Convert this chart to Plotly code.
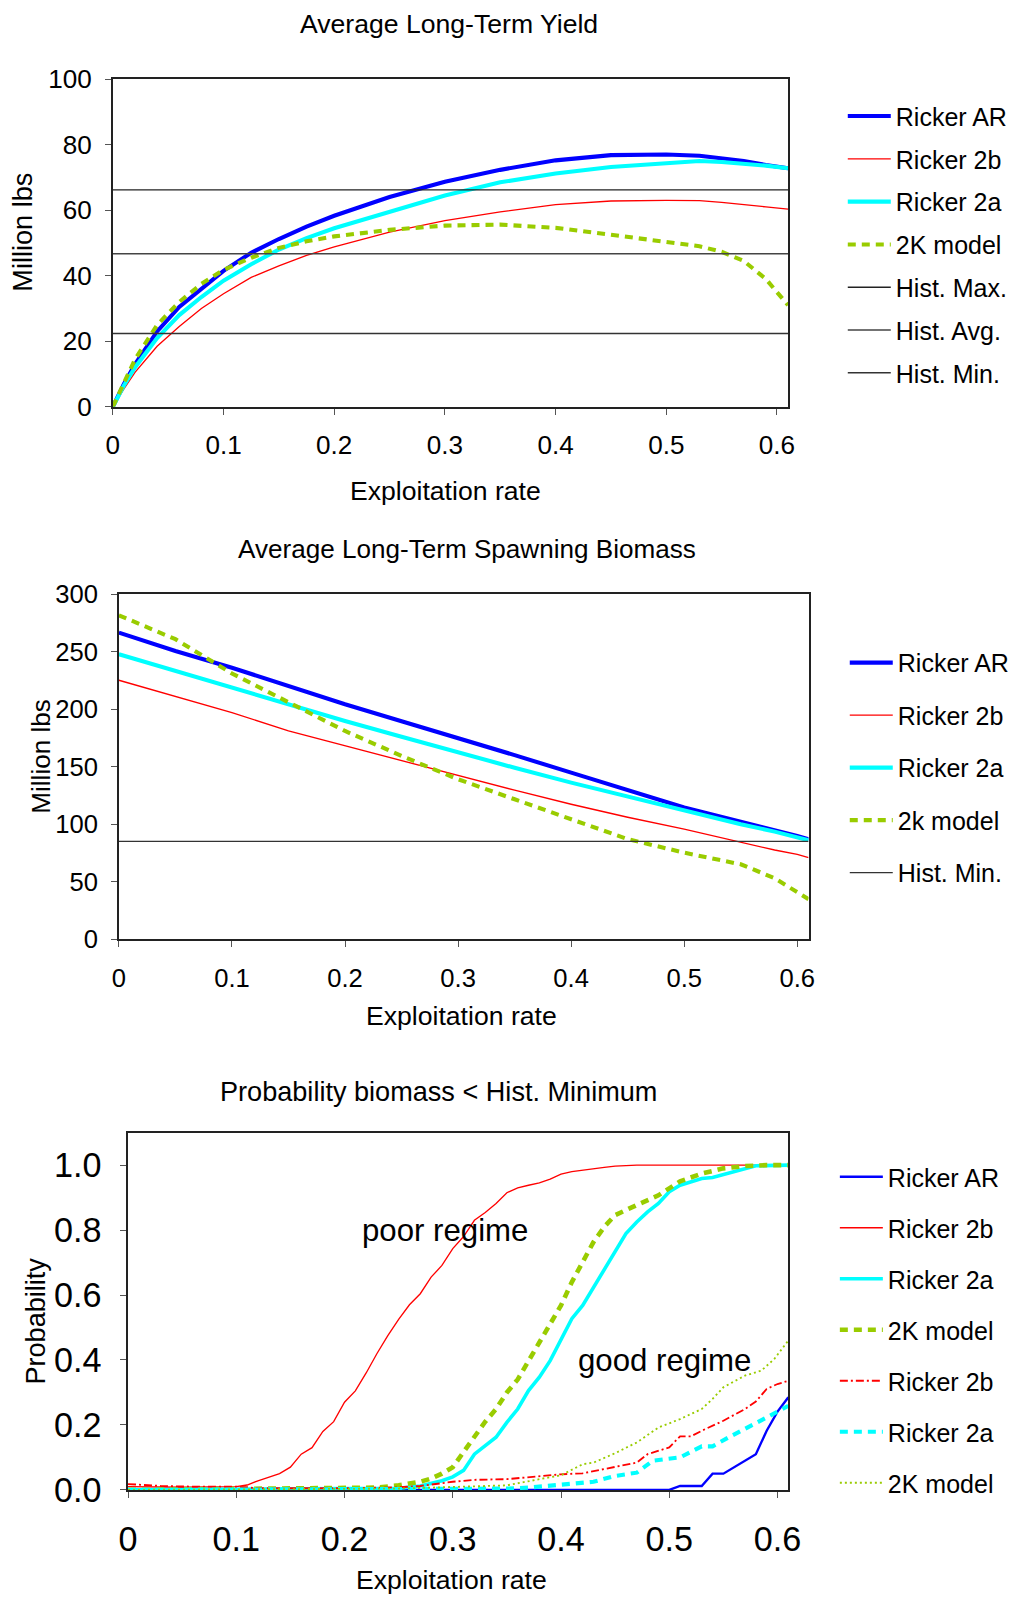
import plotly.graph_objects as go

# The page is photographed slightly reduced (about 0.98) with the figure starting a
# few pixels in from the corner; positions below are given in reference pixels and
# mapped to figure pixels so the photographed chart lines up with the reference.
S_X, S_Y = 0.9775, 0.979
S = (S_X + S_Y) / 2
OFF_X, OFF_Y = 8.5, 13.6
W, H = 1015, 1609

# ---------------- Chart 1: Average Long-Term Yield ----------------
X1 = [0, 0.01, 0.02, 0.04, 0.06, 0.08, 0.1, 0.125, 0.15, 0.175, 0.2, 0.25, 0.3,
      0.35, 0.4, 0.45, 0.5, 0.53, 0.55, 0.57, 0.59, 0.61]
Y1_ricker_ar = [0, 7, 13, 23, 30.5, 36, 41.5, 47, 51.2, 55, 58.3, 64, 68.7, 72.3,
                75.2, 76.8, 77, 76.6, 75.8, 75, 73.8, 72.8]
Y1_ricker_2b = [0, 5.5, 10.5, 18.5, 24.5, 30, 34.5, 39.5, 43, 46.2, 48.8, 53.3, 56.8,
                59.5, 61.7, 62.8, 63, 62.9, 62.4, 61.8, 61, 60.3]
Y1_ricker_2a = [0, 6.5, 12, 21, 28, 33.5, 38.5, 43.5, 48, 51.5, 54.5, 59.5, 64.5,
                68.5, 71.2, 73.2, 74.3, 75, 74.7, 74.3, 73.6, 72.8]
Y1_2k_model = [0, 7.5, 14.5, 25, 32, 37.5, 41.8, 45.5, 48.5, 50.5, 52, 54, 55.3,
               55.6, 54.6, 52.5, 50.4, 49, 47.3, 44.5, 39, 31]
HIST1_X = [0, 0.61]
HIST_MAX_YIELD = 66.2
HIST_AVG_YIELD = 46.7
HIST_MIN_YIELD = 22.4

# ---------------- Chart 2: Average Long-Term Spawning Biomass ----------------
X2 = [0, 0.05, 0.1, 0.15, 0.2, 0.25, 0.3, 0.35, 0.4, 0.45, 0.5, 0.55, 0.58, 0.6, 0.61]
Y2_ricker_ar = [266.5, 250.6, 236, 220, 204.2, 189.5, 175.2, 160, 144.8, 129.5, 114.4,
                102, 95, 89.7, 86.8]
Y2_ricker_2b = [225.1, 211, 197, 181, 168, 155, 141.9, 129.5, 117.3, 106, 95.6, 84,
                77.5, 73.8, 70.9]
Y2_ricker_2a = [247.7, 233, 219, 204, 189.7, 176, 162.2, 149, 136.1, 124, 111.5, 100,
                93.5, 88.2, 86]
Y2_2k_model = [281.6, 260.8, 231, 205.7, 181, 159.3, 139, 121.6, 104.2, 87, 75.2, 65.1,
               53, 41, 34.7]
HIST_MIN_BIOMASS = 85

# ---------------- Chart 3: Probability biomass < Hist. Minimum ----------------
X3_ar = [0, 0.5, 0.51, 0.53, 0.54, 0.55, 0.58, 0.59, 0.6, 0.61]
Y3_ar = [0, 0, 0.012, 0.012, 0.05, 0.05, 0.11, 0.182, 0.241, 0.285]

X3_2b_poor = [0, 0.05, 0.1, 0.11, 0.12, 0.13, 0.14, 0.15, 0.16, 0.17, 0.18, 0.19, 0.2,
              0.21, 0.22, 0.23, 0.24, 0.25, 0.26, 0.27, 0.28, 0.29, 0.3, 0.31, 0.32,
              0.33, 0.34, 0.35, 0.36, 0.37, 0.38, 0.39, 0.4, 0.41, 0.42, 0.43, 0.44,
              0.45, 0.46, 0.47, 0.5, 0.61]
Y3_2b_poor = [0.01, 0.008, 0.01, 0.015, 0.028, 0.04, 0.05, 0.07, 0.11, 0.13, 0.18, 0.21,
              0.27, 0.305, 0.36, 0.42, 0.475, 0.525, 0.57, 0.604, 0.655, 0.691, 0.743,
              0.78, 0.83, 0.854, 0.882, 0.915, 0.93, 0.938, 0.945, 0.957, 0.972, 0.98,
              0.985, 0.99, 0.993, 0.997, 0.998, 1.0, 1.0, 1.0]

X3_2a_poor = [0, 0.25, 0.27, 0.29, 0.3, 0.31, 0.32, 0.33, 0.34, 0.35, 0.36, 0.37, 0.38,
              0.39, 0.4, 0.41, 0.42, 0.43, 0.44, 0.45, 0.46, 0.47, 0.48, 0.49, 0.5,
              0.51, 0.53, 0.54, 0.55, 0.57, 0.58, 0.61]
Y3_2a_poor = [0, 0.005, 0.012, 0.028, 0.04, 0.06, 0.11, 0.135, 0.162, 0.208, 0.249,
              0.306, 0.347, 0.398, 0.46, 0.527, 0.568, 0.624, 0.681, 0.738, 0.789,
              0.825, 0.856, 0.882, 0.918, 0.938, 0.959, 0.962, 0.971, 0.99, 0.998, 1.0]

X3_2k_poor = [0, 0.2, 0.23, 0.25, 0.27, 0.28, 0.29, 0.3, 0.31, 0.32, 0.33, 0.34, 0.35,
              0.36, 0.37, 0.38, 0.39, 0.4, 0.41, 0.42, 0.43, 0.44, 0.45, 0.47, 0.49,
              0.51, 0.53, 0.55, 0.57, 0.59, 0.61]
Y3_2k_poor = [0, 0.005, 0.007, 0.014, 0.025, 0.035, 0.05, 0.07, 0.115, 0.162, 0.21,
              0.249, 0.3, 0.34, 0.398, 0.45, 0.511, 0.568, 0.64, 0.702, 0.763, 0.81,
              0.846, 0.877, 0.907, 0.95, 0.974, 0.99, 0.997, 1.0, 1.0]

X3_2b_good = [0, 0.03, 0.06, 0.1, 0.12, 0.2, 0.25, 0.27, 0.3, 0.32, 0.35, 0.38, 0.4,
              0.42, 0.44, 0.46, 0.47, 0.48, 0.5, 0.51, 0.52, 0.53, 0.55, 0.57, 0.58,
              0.59, 0.6, 0.61]
Y3_2b_good = [0.018, 0.012, 0.01, 0.01, 0.005, 0.005, 0.008, 0.012, 0.025, 0.031, 0.033,
              0.041, 0.048, 0.051, 0.064, 0.076, 0.084, 0.11, 0.131, 0.165, 0.165,
              0.182, 0.213, 0.249, 0.272, 0.311, 0.326, 0.336]

X3_2a_good = [0, 0.3, 0.35, 0.37, 0.39, 0.41, 0.43, 0.45, 0.47, 0.485, 0.51, 0.53, 0.54,
              0.555, 0.57, 0.59, 0.61]
Y3_2a_good = [0, 0.002, 0.004, 0.007, 0.014, 0.021, 0.025, 0.043, 0.053, 0.09, 0.1,
              0.134, 0.134, 0.162, 0.187, 0.223, 0.259]

X3_2k_good = [0, 0.25, 0.31, 0.35, 0.38, 0.4, 0.42, 0.43, 0.45, 0.47, 0.49, 0.51, 0.53,
              0.54, 0.55, 0.57, 0.585, 0.597, 0.61]
Y3_2k_good = [0, 0.004, 0.01, 0.014, 0.033, 0.045, 0.079, 0.084, 0.113, 0.146, 0.192,
              0.218, 0.249, 0.28, 0.316, 0.352, 0.367, 0.403, 0.46]

TITLES = ["Average Long-Term Yield", "Average Long-Term Spawning Biomass",
          "Probability biomass < Hist. Minimum"]

BLUE = "#0000FF"
RED = "#FF0000"
CYAN = "#00FFFF"
GREEN = "#99CC00"
FONT = "Liberation Sans, Arial, sans-serif"

fig = go.Figure()


def px_x(p):
    return (p / S_X - OFF_X) / W


def px_y(p):
    return 1 - (p / S_Y - OFF_Y) / H


def fs(size):
    return round(size / S, 1)


def lw(width):
    return round(width / S, 2)


def line(x, y, name, color, width, dash="solid", xa="x", ya="y", leg="legend", grp=""):
    fig.add_trace(go.Scatter(
        x=x, y=y, mode="lines", name=name, legend=leg, legendgroup=grp,
        line=dict(color=color, width=lw(width), dash=dash),
        xaxis=xa, yaxis=ya, hoverinfo="skip"))


# chart 1
line(X1, Y1_ricker_ar, "Ricker AR", BLUE, 4, grp="a1")
line(X1, Y1_ricker_2b, "Ricker 2b", RED, 1.3, grp="a2")
line(X1, Y1_ricker_2a, "Ricker 2a", CYAN, 4, grp="a3")
line(X1, Y1_2k_model, "2K model", GREEN, 4, dash="8px,6px", grp="a4")
line(HIST1_X, [HIST_MAX_YIELD] * 2, "Hist. Max.", "#222222", 1.4, grp="a5")
line(HIST1_X, [HIST_AVG_YIELD] * 2, "Hist. Avg.", "#444444", 1.4, grp="a6")
line(HIST1_X, [HIST_MIN_YIELD] * 2, "Hist. Min.", "#333333", 1.4, grp="a7")

# chart 2
line(X2, Y2_ricker_ar, "Ricker AR", BLUE, 4, xa="x2", ya="y2", leg="legend2", grp="b1")
line(X2, Y2_ricker_2b, "Ricker 2b", RED, 1.3, xa="x2", ya="y2", leg="legend2", grp="b2")
line(X2, Y2_ricker_2a, "Ricker 2a", CYAN, 4, xa="x2", ya="y2", leg="legend2", grp="b3")
line(X2, Y2_2k_model, "2k model", GREEN, 4, dash="8px,6px", xa="x2", ya="y2",
     leg="legend2", grp="b4")
line(HIST1_X, [HIST_MIN_BIOMASS] * 2, "Hist. Min.", "#333333", 1.4, xa="x2", ya="y2",
     leg="legend2", grp="b5")

# chart 3
line(X3_ar, Y3_ar, "Ricker AR", BLUE, 2.3, xa="x3", ya="y3", leg="legend3", grp="c1")
line(X3_2b_poor, Y3_2b_poor, "Ricker 2b", RED, 1.3, xa="x3", ya="y3", leg="legend3", grp="c2")
line(X3_2a_poor, Y3_2a_poor, "Ricker 2a", CYAN, 3.5, xa="x3", ya="y3", leg="legend3", grp="c3")
line(X3_2k_poor, Y3_2k_poor, "2K model", GREEN, 4.5, dash="8px,6px", xa="x3", ya="y3",
     leg="legend3", grp="c4")
line(X3_2b_good, Y3_2b_good, "Ricker 2b", RED, 1.8, dash="8px,3px,2px,3px", xa="x3",
     ya="y3", leg="legend3", grp="c5")
line(X3_2a_good, Y3_2a_good, "Ricker 2a", CYAN, 4, dash="8px,6px", xa="x3", ya="y3",
     leg="legend3", grp="c6")
line(X3_2k_good, Y3_2k_good, "2K model", GREEN, 1.8, dash="2px,3px", xa="x3", ya="y3",
     leg="legend3", grp="c7")

axis_common = dict(showline=True, mirror=True, linecolor="#222222", linewidth=lw(1.5),
                   ticks="outside", ticklen=6, tickcolor="#555555", tickwidth=1.2,
                   showgrid=False, zeroline=False, color="black")

fig.update_layout(
    width=W, height=H, margin=dict(l=0, r=0, t=0, b=0),
    paper_bgcolor="white", plot_bgcolor="white",
    font=dict(family=FONT, color="black"),
    showlegend=True,
    xaxis=dict(domain=[px_x(112), px_x(792.8)], range=[0, 0.61], dtick=0.1, tick0=0,
               anchor="y", tickfont=dict(size=fs(25.5)), ticklabelstandoff=8,
               **axis_common),
    yaxis=dict(domain=[px_y(405.2), px_y(77.4)], range=[0, 100], dtick=20,
               anchor="x", tickfont=dict(size=fs(25.5)), ticklabelstandoff=8,
               **axis_common),
    xaxis2=dict(domain=[px_x(118.1), px_x(813.5)], range=[0, 0.61], dtick=0.1, tick0=0,
                anchor="y2", tickfont=dict(size=fs(25)), ticklabelstandoff=9,
                **axis_common),
    yaxis2=dict(domain=[px_y(937.6), px_y(592.5)], range=[0, 300], dtick=50,
                anchor="x2", tickfont=dict(size=fs(25)), ticklabelstandoff=8,
                **axis_common),
    xaxis3=dict(domain=[px_x(127.3), px_x(793.1)], range=[0, 0.61], dtick=0.1, tick0=0,
                anchor="y3", tickfont=dict(size=fs(33.5)), ticklabelstandoff=12,
                **axis_common),
    yaxis3=dict(domain=[px_y(1488.4), px_y(1131.1)], range=[0, 1.1], dtick=0.2,
                tickformat=".1f", anchor="x3", tickfont=dict(size=fs(33.5)),
                ticklabelstandoff=12, **axis_common),
)

leg_common = dict(bgcolor="rgba(0,0,0,0)", borderwidth=0, traceorder="grouped",
                  itemwidth=43, xanchor="left", yanchor="top", itemclick=False,
                  itemdoubleclick=False)
fig.update_layout(
    legend=dict(x=px_x(848), y=px_y(91.6), font=dict(size=fs(24.5)), tracegroupgap=7.3,
                **leg_common),
    legend2=dict(x=px_x(850), y=px_y(638.3), font=dict(size=fs(24.5)), tracegroupgap=17,
                 **leg_common),
    legend3=dict(x=px_x(840), y=px_y(1152.5), font=dict(size=fs(24.5)),
                 tracegroupgap=15.5, **leg_common),
)

ann = []


def text(x, y, s, size, angle=0):
    ann.append(dict(x=px_x(x), y=px_y(y), xref="paper", yref="paper", text=s,
                    showarrow=False, xanchor="center", yanchor="middle",
                    textangle=angle, font=dict(size=fs(size), color="black", family=FONT)))


text(450.5, 22.4, TITLES[0], 26)
text(447.5, 489.7, "Exploitation rate", 26)
text(21.4, 230, "Million lbs", 26.5, -90)
text(468.8, 547.7, TITLES[1], 25.5)
text(464, 1014, "Exploitation rate", 26)
text(38.7, 755, "Million lbs", 25.5, -90)
text(440.8, 1090.3, TITLES[2], 26.5)
text(453.5, 1579, "Exploitation rate", 26)
text(33.6, 1320, "Probability", 26.5, -90)

ann.append(dict(x=0.293, y=0.80, xref="x3", yref="y3", text="poor regime",
                showarrow=False, font=dict(size=fs(30.5), color="black", family=FONT)))
ann.append(dict(x=0.4955, y=0.398, xref="x3", yref="y3", text="good regime",
                showarrow=False, font=dict(size=fs(30.5), color="black", family=FONT)))
fig.update_layout(annotations=ann)

fig.write_html("out.html")
